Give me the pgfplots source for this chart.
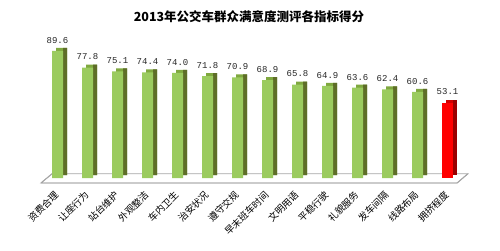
\documentclass[border=0pt]{standalone}
\usepackage{fontspec}
\usepackage{pgfplots}
\usepackage{pgfplotstable}
\pgfplotsset{compat=1.18}
\newfontfamily\cjk{Noto Sans CJK SC}
\newfontfamily\mono{Liberation Mono}
\definecolor{frontG}{HTML}{9BCB5F}
\definecolor{capG}{HTML}{7FA83F}
\definecolor{sideG}{HTML}{5E6E28}
\definecolor{frontR}{HTML}{FF0000}
\definecolor{capR}{HTML}{D00000}
\definecolor{sideR}{HTML}{9A0000}
\definecolor{floorC}{HTML}{A6A6A6}
\pgfplotstableread{
x v
0 89.6
1 77.8
2 75.1
3 74.4
4 74.0
5 71.8
6 70.9
7 68.9
8 65.8
9 64.9
10 63.6
11 62.4
12 60.6
}\greendata
\pgfplotstableread{
x v
13 53.1
}\reddata
\begin{document}
\begin{tikzpicture}
\useasboundingbox (0,0) rectangle (500pt,250pt);
\node[font=\cjk\bfseries\fontsize{12.5}{14}\selectfont] at (249pt,233pt) {2013年公交车群众满意度测评各指标得分};
\begin{axis}[
  at={(27.5pt,57.8pt)}, anchor=south west,
  scale only axis, width=450pt, height=156.2pt,
  xmin=-1, xmax=14, ymin=-10, ymax=100,
  axis line style={draw=none},
  ytick=\empty,
  xtick={0,...,13},
  xticklabels={资费合理,让座行为,站台维护,外观整洁,车内卫生,治安状况,遵守交规,早末班车时间,文明用语,平稳行驶,礼貌服务,发车间隔,线路布局,拥挤程度},
  major tick length=0pt,
  xticklabel style={font=\cjk\fontsize{9.5}{11}\selectfont, rotate=45, anchor=east, inner sep=1pt},
  clip=false,
]
\addplot[draw=none, mark=none] coordinates {(0,0)};
\addplot[color=floorC, line width=0.9pt, mark=none] coordinates {(-0.55,-3.5) (13.32,-3.5) (13.68,3) (-0.18,3) (-0.55,-3.5)};
% green bars
\addplot[ybar, bar width=11pt, bar shift=4pt, yshift=3pt, fill=capG, draw=none] table[x=x,y=v]{\greendata};
\addplot[ybar, bar width=4pt, bar shift=7.5pt, yshift=3pt, fill=sideG, draw=none] table[x=x,y=v]{\greendata};
\addplot[ybar, bar width=11pt, bar shift=0pt, fill=frontG, draw=none,
  point meta=explicit symbolic, nodes near coords,
  nodes near coords style={font=\mono\fontsize{9}{10}\selectfont, yshift=4pt, text=black!85}]
  table[x=x,y=v,meta=v]{\greendata};
% red bar
\addplot[ybar, bar width=11pt, bar shift=4pt, yshift=3pt, fill=capR, draw=none] table[x=x,y=v]{\reddata};
\addplot[ybar, bar width=4pt, bar shift=7.5pt, yshift=3pt, fill=sideR, draw=none] table[x=x,y=v]{\reddata};
\addplot[ybar, bar width=11pt, bar shift=0pt, fill=frontR, draw=none,
  point meta=explicit symbolic, nodes near coords,
  nodes near coords style={font=\mono\fontsize{9}{10}\selectfont, yshift=4pt, text=black!85}]
  table[x=x,y=v,meta=v]{\reddata};
% floor front edge and ends, in front of the bars
\addplot[color=floorC, line width=0.9pt, mark=none] coordinates {(-0.18,3) (-0.55,-3.5) (13.32,-3.5) (13.68,3)};
\end{axis}
\end{tikzpicture}
\end{document}
